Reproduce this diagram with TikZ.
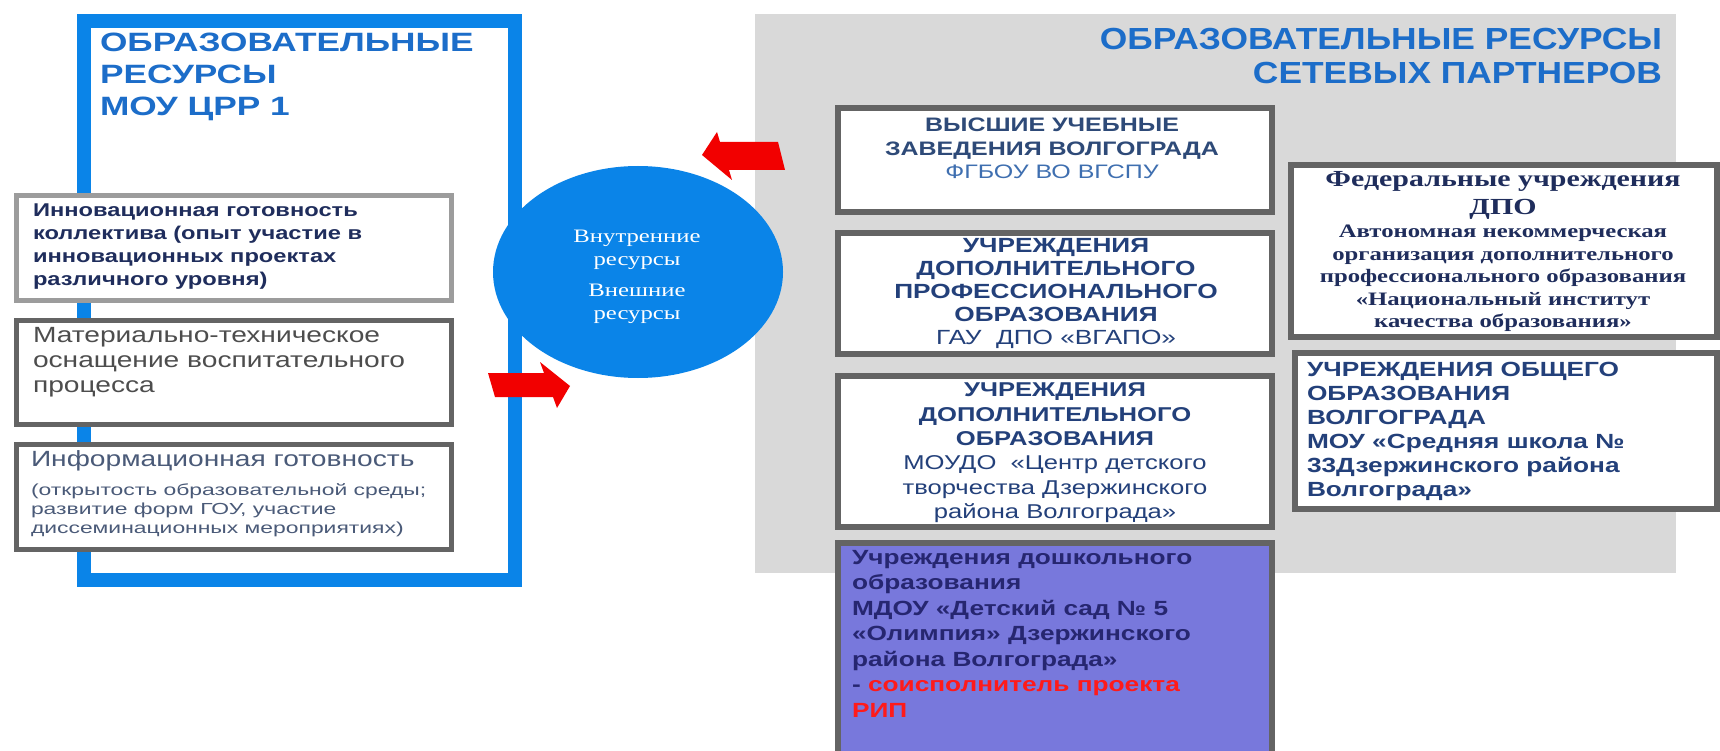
\documentclass[tikz,border=0pt]{standalone}
\usepackage{fontspec}
\setmainfont{Liberation Sans}
\newfontfamily\SW[FakeStretch=1.28]{Liberation Sans}
\newfontfamily\SWt[FakeStretch=1.33]{Liberation Sans}
\newfontfamily\SX[FakeStretch=1.43]{Liberation Sans}
\newfontfamily\SM[FakeStretch=1.16]{Liberation Sans}
\newfontfamily\RW[FakeStretch=1.3]{Liberation Serif}
\usetikzlibrary{shapes.geometric}
\definecolor{frameblue}{HTML}{0A84E8}
\definecolor{titleblue}{HTML}{1C6DC9}
\definecolor{panelgray}{HTML}{D9D9D9}
\definecolor{boxgray}{HTML}{646464}
\definecolor{lightgray}{HTML}{9C9C9C}
\definecolor{arrowred}{HTML}{F20000}
\definecolor{doufill}{HTML}{7878DC}
\definecolor{navy}{HTML}{1F2D5C}
\definecolor{darkgraytext}{HTML}{4D4D4D}
\definecolor{slatetext}{HTML}{4A5A78}
\definecolor{vuztext}{HTML}{2E4A78}
\definecolor{vuzlight}{HTML}{3F6FB0}
\definecolor{dpotext}{HTML}{23407A}
\definecolor{doutext}{HTML}{262670}
\definecolor{ripred}{HTML}{FF1A1A}
\begin{document}
\begin{tikzpicture}[x=1pt,y=-1pt,
  gbox/.style={draw=boxgray, line width=6pt, fill=white, inner sep=0pt},
  lbox/.style={draw=lightgray, line width=5pt, fill=white, inner sep=0pt},
  dbox/.style={draw=boxgray, line width=5pt, fill=white, inner sep=0pt},
  txt/.style={inner sep=0pt, outer sep=0pt},
  redarrow/.style={fill=arrowred}
]
\useasboundingbox (0,0) rectangle (1720,751);
\fill[white] (0,0) rectangle (1720,751);

% grey panel of network partners
\node[fill=panelgray, minimum width=921, minimum height=559, inner sep=0pt] (panel) at (1215.5,293.5) {};

% blue frame
\node[draw=frameblue, line width=14pt, minimum width=431, minimum height=559, inner sep=0pt] (frame) at (299.5,300.5) {};

\node[txt, anchor=north west, align=left, text=titleblue,
  font=\SWt\bfseries\fontsize{26.5}{32}\selectfont] (ltitle) at (100,33)
  {ОБРАЗОВАТЕЛЬНЫЕ\\РЕСУРСЫ\\МОУ ЦРР 1};

% left boxes
\node[lbox, minimum width=435, minimum height=105] (b1) at (234,248) {};
\node[dbox, minimum width=435, minimum height=104] (b2) at (234,372.5) {};
\node[dbox, minimum width=435, minimum height=105] (b3) at (234,497) {};

\node[txt, anchor=north west, align=left, text=navy,
  font=\SW\bfseries\fontsize{18.5}{23}\selectfont] (t1) at (33,204)
  {Инновационная готовность\\коллектива (опыт участие в\\инновационных проектах\\различного уровня)};
\node[txt, anchor=north west, align=left, text=darkgraytext,
  font=\SW\fontsize{22}{25}\selectfont] (t2) at (33,327)
  {Материально-техническое\\оснащение воспитательного\\процесса};
\node[txt, anchor=north west, align=left, text=slatetext,
  font=\SW\fontsize{22}{25}\selectfont] (t3a) at (31,451)
  {Информационная готовность};
\node[txt, anchor=north west, align=left, text=slatetext,
  font=\SX\fontsize{16}{19}\selectfont] (t3b) at (31,484)
  {(открытость образовательной среды;\\развитие форм ГОУ, участие\\диссеминационных мероприятиях)};

% central ellipse
\node[ellipse, fill=frameblue, minimum width=290, minimum height=212, inner sep=0pt] (res) at (638,272) {};
\node[txt, align=center, text=white, font=\RW\fontsize{19}{22.5}\selectfont] (restext) at (637,277)
  {Внутренние\\ресурсы\\[9pt]Внешние\\ресурсы};

% red block arrows
\fill[redarrow] (488,373) -- (544,373) -- (540,362) -- (570,386) -- (557,408) -- (553,397) -- (495,397) -- cycle;
\fill[redarrow] (702,155) -- (717,132) -- (720,142) -- (778,142) -- (785,170) -- (729,170) -- (732,180) -- cycle;

% right title
\node[txt, anchor=north east, align=right, text=titleblue,
  font=\SM\bfseries\fontsize{30.5}{34}\selectfont] (rtitle) at (1662,28)
  {ОБРАЗОВАТЕЛЬНЫЕ РЕСУРСЫ\\СЕТЕВЫХ ПАРТНЕРОВ};

% partner boxes
\node[gbox, minimum width=434, minimum height=104] (vuz) at (1055,160) {};
\node[gbox, minimum width=434, minimum height=121] (dpo) at (1055,293.5) {};
\node[gbox, minimum width=434, minimum height=151] (dop) at (1055,451.5) {};
\node[gbox, fill=doufill, minimum width=434, minimum height=224] (dou) at (1055,655) {};
\node[gbox, minimum width=426, minimum height=172] (fed) at (1504,251) {};
\node[gbox, minimum width=422, minimum height=156] (oo) at (1506,431) {};

\node[txt, anchor=north, align=center, text=vuztext,
  font=\SW\fontsize{19.5}{23.5}\selectfont] (vuzt) at (1052,118)
  {{\bfseries ВЫСШИЕ УЧЕБНЫЕ}\\{\bfseries ЗАВЕДЕНИЯ ВОЛГОГРАДА}\\\textcolor{vuzlight}{ФГБОУ ВО ВГСПУ}};
\node[txt, anchor=north, align=center, text=dpotext,
  font=\SW\fontsize{20.5}{23}\selectfont] (dpot) at (1056,238)
  {{\bfseries УЧРЕЖДЕНИЯ}\\{\bfseries ДОПОЛНИТЕЛЬНОГО}\\{\bfseries ПРОФЕССИОНАЛЬНОГО}\\{\bfseries ОБРАЗОВАНИЯ}\\ГАУ\ \ ДПО «ВГАПО»};
\node[txt, anchor=north, align=center, text=dpotext,
  font=\SW\fontsize{20}{24.4}\selectfont] (dopt) at (1055,383)
  {{\bfseries УЧРЕЖДЕНИЯ}\\{\bfseries ДОПОЛНИТЕЛЬНОГО}\\{\bfseries ОБРАЗОВАНИЯ}\\МОУДО\ \ «Центр детского\\творчества Дзержинского\\района Волгограда»};
\node[txt, anchor=north west, align=left, text=doutext,
  font=\SW\bfseries\fontsize{20.5}{25.5}\selectfont] (dout) at (852,550)
  {Учреждения дошкольного\\образования\\МДОУ «Детский сад № 5\\«Олимпия» Дзержинского\\района Волгограда»\\- \textcolor{ripred}{соисполнитель проекта}\\\textcolor{ripred}{РИП}};
\node[txt, anchor=north, align=center, text=navy,
  font=\RW\bfseries\fontsize{23}{28}\selectfont] (feda) at (1503,171)
  {Федеральные учреждения\\ДПО};
\node[txt, anchor=north, align=center, text=navy,
  font=\RW\bfseries\fontsize{19}{22.5}\selectfont] (fedb) at (1503,225)
  {Автономная некоммерческая\\организация дополнительного\\профессионального образования\\«Национальный институт\\качества образования»};
\node[txt, anchor=north west, align=left, text=dpotext,
  font=\SW\bfseries\fontsize{20.5}{24}\selectfont] (oot) at (1307,362)
  {УЧРЕЖДЕНИЯ ОБЩЕГО\\ОБРАЗОВАНИЯ\\ВОЛГОГРАДА\\МОУ «Средняя школа №\\33Дзержинского района\\Волгограда»};
\end{tikzpicture}
\end{document}
